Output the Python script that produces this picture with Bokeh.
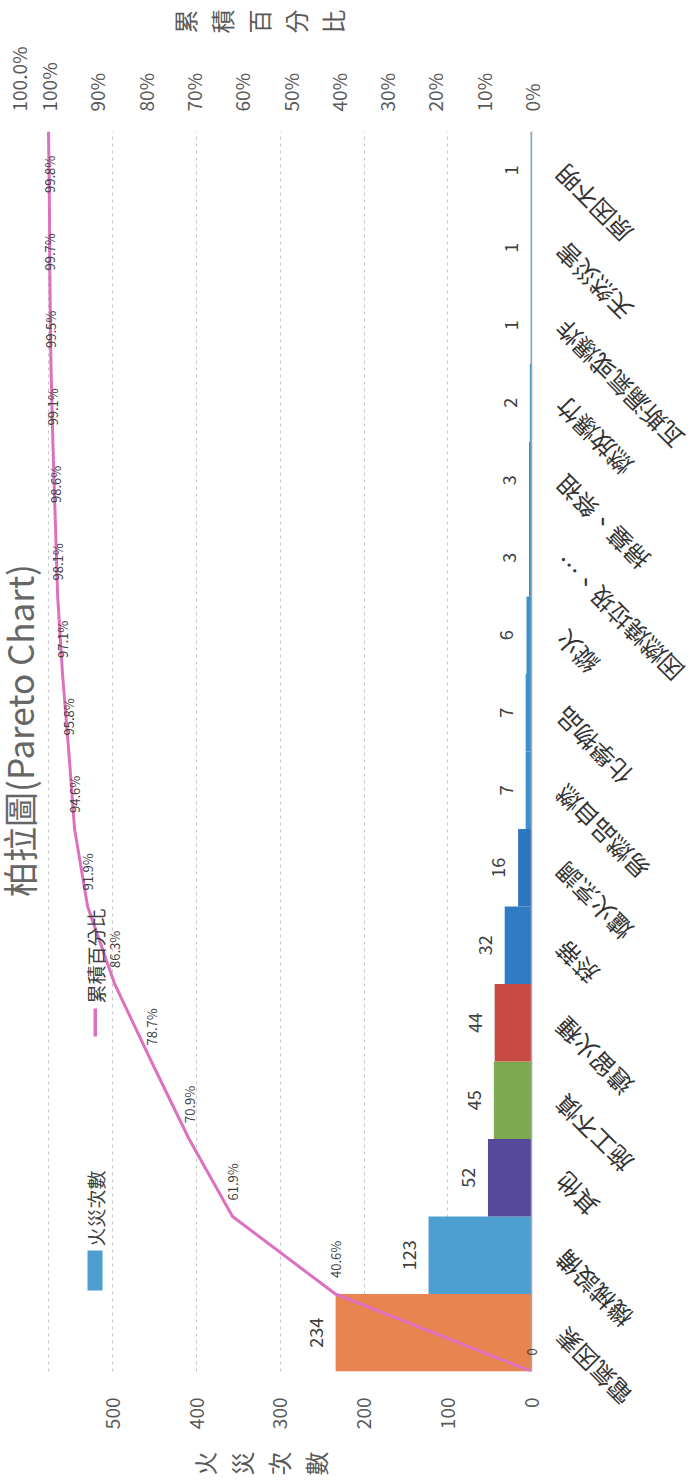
import math
from bokeh.plotting import figure
from bokeh.layouts import row, column
from bokeh.models import (Range1d, FactorRange, LinearAxis, FixedTicker, NumeralTickFormatter,
                          ColumnDataSource, LabelSet, Label, BoxAnnotation, Span)
from bokeh.core.properties import value
from bokeh.embed import file_html
from bokeh.resources import INLINE

FONT = "Noto Sans CJK TC"

# ---------------- data ----------------
categories = ["電氣因素", "機械設備", "其他", "施工不慎", "遺留火種", "菸蒂", "爐火烹調",
              "易燃品自燃", "化學物品", "縱火", "因燃燒垃圾、…", "掃墓、祭祖", "燃放爆竹",
              "瓦斯漏氣或爆炸", "天然災害", "原因不明"]
counts = [234, 123, 52, 45, 44, 32, 16, 7, 7, 6, 3, 3, 2, 1, 1, 1]
cum_pct = [0, 40.6, 61.9, 70.9, 78.7, 86.3, 91.9, 94.6, 95.8, 97.1, 98.1, 98.6, 99.1,
           99.5, 99.7, 99.8, 100.0]
count_ticks = [0, 100, 200, 300, 400, 500]
pct_ticks = [0, 10, 20, 30, 40, 50, 60, 70, 80, 90, 100]
total_count = 577
count_axis_title = "火災次數"
pct_axis_title = "累積百分比"
bar_colors = ["#E8844F", "#4C9FD0", "#56499B", "#7DAA4F", "#C94A44", "#2F7CC4", "#2D76BF",
              "#3D8FCD", "#3D8FCD", "#3D8FCD", "#3D8FCD", "#3D8FCD", "#3D8FCD", "#3D8FCD",
              "#3D8FCD", "#3D8FCD"]

# ---------------- layout (page pixels; chart is drawn rotated 90° CCW) ----------------
PAGE_W, PAGE_H = 694, 1483
X_ZERO, X_TOTAL = 531, 48          # screen x of count 0 and of the total (=100 %)
Y_BOTTOM, BAND = 1371, 77.5        # bottom of first category band, band height
A_W = 545                          # width of the main figure
T_H = 42                           # strip above (title of percent axis)
B_H = 38                           # strip below (title of count axis)
u = total_count / (X_ZERO - X_TOTAL)


def vx(px):   # page x -> count value
    return (X_ZERO - px) * u


def sy(py):   # page y -> categorical synthetic coordinate
    return (Y_BOTTOM - py) / BAND


frame_top = Y_BOTTOM - len(categories) * BAND


def no_align(fig):
    try:
        fig.frame_align = False
    except Exception:
        pass


def plain(fig):
    no_align(fig)
    fig.outline_line_color = None
    fig.xgrid.visible = False
    fig.ygrid.visible = False
    fig.background_fill_color = "white"
    fig.border_fill_color = "white"


p = figure(width=A_W, height=PAGE_H - T_H - B_H,
           x_range=Range1d(vx(0), vx(A_W)),
           y_range=FactorRange(factors=categories, range_padding=0, factor_padding=0),
           x_axis_location="below", y_axis_location=None,
           toolbar_location=None, output_backend="svg", title=None,
           min_border_left=0, min_border_right=0,
           min_border_top=int(round(frame_top - T_H)),
           min_border_bottom=PAGE_H - B_H - Y_BOTTOM)
no_align(p)
p.extra_x_ranges = {"pct": Range1d(vx(0) / total_count, vx(A_W) / total_count)}
p.outline_line_color = None
p.background_fill_color = "white"
p.border_fill_color = "white"

# count axis (bottom of the rotated picture)
xa = p.xaxis[0]
xa.ticker = FixedTicker(ticks=count_ticks)
xa.major_label_orientation = math.pi / 2
xa.axis_line_color = None
xa.major_tick_line_color = None
xa.minor_tick_line_color = None
xa.major_tick_out = 0
xa.major_tick_in = 0
xa.major_label_standoff = 26
xa.major_label_text_font = FONT
xa.major_label_text_font_size = "19px"
xa.major_label_text_color = "#595959"

# percent axis (top of the rotated picture); the 100.0 % data label sits in its label row
last_lbl_pos = vx(18) / total_count
pa = LinearAxis(x_range_name="pct",
                ticker=FixedTicker(ticks=[t / 100 for t in pct_ticks] + [last_lbl_pos]),
                formatter=NumeralTickFormatter(format="0%"))
pa.major_label_overrides = {last_lbl_pos: f"{cum_pct[-1]:.1f}%"}
pa.major_label_orientation = math.pi / 2
pa.axis_line_color = None
pa.major_tick_line_color = None
pa.minor_tick_line_color = None
pa.major_tick_out = 0
pa.major_tick_in = 0
pa.major_label_standoff = 20
pa.major_label_text_font = FONT
pa.major_label_text_font_size = "19px"
pa.major_label_text_color = "#595959"
p.add_layout(pa, "above")

# grid
p.xgrid.ticker = FixedTicker(ticks=[100, 200, 300, 400, 500, total_count])
p.xgrid.grid_line_color = "#c4c4c4"
p.xgrid.grid_line_dash = "3 4"
p.xgrid.grid_line_width = 1
p.ygrid.visible = False

# category axis line
p.add_layout(Span(location=0, dimension="height", line_color="#a6a6a6", line_width=1.5))

# bars
src = ColumnDataSource(dict(cat=categories, count=counts, color=bar_colors,
                            lbl=[str(c) for c in counts]))
p.hbar(y="cat", left=0, right="count", height=1.0, fill_color="color", line_color=None, source=src)

# cumulative line at the category boundaries
ys = [(categories[0], -0.5)] + [(c, 0.5) for c in categories]
plbl = ["0"] + [f"{v:.1f}%" for v in cum_pct[1:]]
line_src = ColumnDataSource(dict(pct=[v / 100 for v in cum_pct], y=ys))
p.line(x="pct", y="y", x_range_name="pct", line_color="#DE70C0", line_width=3, source=line_src)

# count labels
p.add_layout(LabelSet(x="count", y="cat", text="lbl", source=src, angle=math.pi / 2,
                      text_align="center", text_baseline="bottom", x_offset=-13,
                      text_font=value(FONT), text_font_size="18px", text_color="#404040"))

# percent labels (all but the last one, which is shown in the top label row)
pl_src = ColumnDataSource(dict(pct=[v / 100 for v in cum_pct[:-1]], y=ys[:-1], lbl=plbl[:-1]))
p.add_layout(LabelSet(x="pct", y="y", text="lbl", source=pl_src, x_range_name="pct",
                      angle=math.pi / 2, text_align="left", text_baseline="middle", y_offset=16,
                      text_font=value(FONT), text_font_size="13px", text_color="#404040"))

# legend (drawn manually, rotated)
p.add_layout(BoxAnnotation(left=vx(87), right=vx(102), bottom=sy(1290), top=sy(1250),
                           fill_color="#4C9FD0", fill_alpha=1.0, line_color=None))
p.add_layout(Label(x=vx(94.5), y=sy(1246), text="火災次數", angle=math.pi / 2, text_align="left",
                   text_baseline="middle", text_font=FONT, text_font_size="19px",
                   text_color="#404040"))
p.add_layout(BoxAnnotation(left=vx(93), right=vx(96.5), bottom=sy(1036), top=sy(1008),
                           fill_color="#DE70C0", fill_alpha=1.0, line_color=None))
p.add_layout(Label(x=vx(94.5), y=sy(1003), text="累積百分比", angle=math.pi / 2, text_align="left",
                   text_baseline="middle", text_font=FONT, text_font_size="19px",
                   text_color="#404040"))

# title
p.add_layout(Label(x=vx(18), y=sy(730), text="柏拉圖(Pareto Chart)", angle=math.pi / 2,
                   text_align="center", text_baseline="middle", text_font=FONT,
                   text_font_size="35px", text_color="#666666"))


# ---------------- strips holding the stacked axis titles ----------------
def stacked_title(text, height, cy, cx=258, step=37):
    f = figure(width=A_W, height=height, x_range=Range1d(0, A_W), y_range=Range1d(height, 0),
               x_axis_location=None, y_axis_location=None, toolbar_location=None,
               output_backend="svg", title=None, min_border=0)
    plain(f)
    chars = list(text)
    n = len(chars)
    s = ColumnDataSource(dict(x=[cx + (i - (n - 1) / 2) * step for i in range(n)],
                              y=[cy] * n, ch=chars))
    f.add_layout(LabelSet(x="x", y="y", text="ch", source=s, angle=math.pi / 2,
                          text_align="center", text_baseline="middle",
                          text_font=value(FONT), text_font_size="24px", text_color="#595959"))
    return f


t = stacked_title(pct_axis_title, T_H, 21, cx=258)
bot = stacked_title(count_axis_title, B_H, 18, cx=259)

# ---------------- strip at the right: category labels ----------------
b = figure(width=PAGE_W - A_W, height=PAGE_H,
           x_range=Range1d(A_W, PAGE_W), y_range=Range1d(sy(PAGE_H), sy(0)),
           x_axis_location=None, y_axis_location=None, toolbar_location=None,
           output_backend="svg", title=None, min_border=0)
plain(b)
cat_src = ColumnDataSource(dict(y=[i + 0.5 for i in range(len(categories))], cat=categories))
b.add_layout(LabelSet(x=559, y="y", text="cat", source=cat_src, angle=3 * math.pi / 4,
                      text_align="right", text_baseline="middle",
                      text_font=value(FONT), text_font_size="24px", text_color="#333333"))

layout = row(column(t, p, bot), b)
open("out.html", "w").write(file_html(layout, INLINE))
